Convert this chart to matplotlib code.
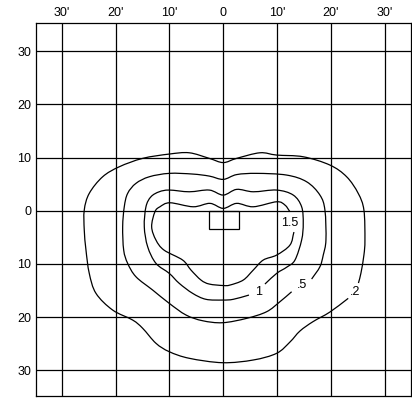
import matplotlib
matplotlib.use("Agg")
import matplotlib.pyplot as plt
from matplotlib.patches import Rectangle, PathPatch
from matplotlib.path import Path

plt.rcParams['font.family'] = ['Liberation Sans', 'DejaVu Sans']

# Grid positions and their labels (degrees / minutes)
x_ticks = [-30, -20, -10, 0, 10, 20, 30]
x_labels = ["30'", "20'", "10'", "0", "10'", "20'", "30'"]
y_ticks = [30, 20, 10, 0, -10, -20, -30]
y_labels = ["30", "20", "10", "0", "10", "20", "30"]

# Iso-illuminance contours; each path runs from one side of its label gap to the other
c02_x = [23.23, 19.83, 16.67, 14.26, 12.4, 9.93, 5.58, -0.11, -6.32, -10.04, -12.51, -14.98,
         -16.84, -20.56, -23.66, -24.91, -25.52, -25.84, -25.84, -24.91, -22.42, -19.33,
         -14.98, -10.04, -6.32, -2.6, 0.0, 2.49, 6.82, 9.93, 14.87, 19.83, 22.94, 25.09,
         26.15, 26.34, 26.15, 25.6, 25.13]
c02_y = [-16.47, -19.04, -20.86, -22.61, -24.68, -26.8, -28.06, -28.57, -27.74, -26.5, -24.92,
         -22.1, -20.55, -18.67, -15.53, -11.77, -7.39, -3.63, 0.13, 3.27, 6.39, 8.27, 9.85,
         10.66, 10.9, 9.85, 9.06, 9.85, 10.9, 10.47, 10.15, 8.59, 6.39, 3.27, 0.13, -5.51,
         -8.33, -11.71, -13.59]

c05_x = [12.71, 10.54, 8.07, 4.35, -0.11, -3.83, -6.93, -10.04, -13.12, -16.23, -17.77, -18.51,
         -18.7, -18.4, -17.77, -16.23, -13.75, -10.04, -5.69, -2.6, 0.0, 2.49, 6.21, 11.78,
         15.5, 17.97, 18.9, 19.09, 18.59, 17.97, 16.43]
c05_y = [-15.23, -17.1, -18.98, -20.23, -21.05, -20.68, -19.6, -17.41, -14.91, -12.41, -9.89,
         -7.39, -3.01, 0.75, 3.27, 5.15, 6.39, 7.03, 6.9, 6.52, 5.9, 6.8, 7.03, 6.71, 5.45,
         2.95, 0.13, -5.51, -8.33, -10.53, -12.84]

c10_x = [4.78, 1.86, -0.11, -3.22, -5.69, -8.18, -10.04, -12.51, -14.05, -14.68, -14.37, -13.44,
         -11.9, -10.04, -6.32, -2.6, 0.0, 2.49, 5.58, 9.93, 13.01, 14.57, 14.87, 14.57, 13.33,
         11.84, 9.93, 7.75]
c10_y = [-15.85, -16.65, -16.79, -16.65, -15.53, -13.65, -11.77, -9.89, -6.77, -3.01, 0.75,
         2.63, 3.57, 3.89, 3.57, 3.89, 2.95, 4.02, 3.57, 3.89, 2.95, 0.75, -2.37, -5.51, -9.27,
         -10.58, -11.77, -13.78]

c15_x = [13.14, 12.4, 9.93, 7.43, 5.58, 3.72, 1.25, 0.0, -2.6, -4.14, -6.0, -7.55, -11.02,
         -12.51, -13.31, -12.7, -11.77, -9.91, -5.58, -2.47, 0.0, 2.49, 5.58, 9.93, 11.47, 12.4]
c15_y = [-4.0, -6.45, -8.33, -9.27, -11.15, -13.03, -13.97, -14.06, -13.78, -13.03, -11.15,
         -9.27, -7.39, -5.51, -3.01, -0.19, 0.75, 1.5, 0.75, 1.39, 0.45, 1.39, 0.75, 1.69,
         1.07, -0.19]

contour_text = [".2", ".5", "1", "1.5"]
label_x = [24.48, 14.57, 6.51, 12.27]
label_y = [-15.23, -13.97, -15.23, -2.37]

# Luminaire outline
lum_x0, lum_x1 = -2.66, 2.86
lum_y0, lum_y1 = -3.5, 0.0


def smooth_path(xs, ys):
    """Smooth open path through the given vertices (Catmull-Rom as cubic Beziers)."""
    pts = list(zip(xs, ys))
    n = len(pts)
    tangents = []
    for i in range(n):
        a = pts[max(i - 1, 0)]
        b = pts[min(i + 1, n - 1)]
        k = 0.5 if 0 < i < n - 1 else 1.0
        tangents.append(((b[0] - a[0]) * k, (b[1] - a[1]) * k))
    verts = [pts[0]]
    codes = [Path.MOVETO]
    for i in range(n - 1):
        p0, p1 = pts[i], pts[i + 1]
        t0, t1 = tangents[i], tangents[i + 1]
        verts += [(p0[0] + t0[0] / 3, p0[1] + t0[1] / 3),
                  (p1[0] - t1[0] / 3, p1[1] - t1[1] / 3),
                  p1]
        codes += [Path.CURVE4] * 3
    return Path(verts, codes)


fig = plt.figure(figsize=(4.12, 4.00), dpi=100)
ax = fig.add_axes([0.0874, 0.01, 0.910, 0.933])
ax.set_xlim(-34.81, 34.89)
ax.set_ylim(-34.83, 35.34)

ax.set_xticks(x_ticks)
ax.set_xticklabels(x_labels)
ax.set_yticks(y_ticks)
ax.set_yticklabels(y_labels)
ax.xaxis.tick_top()
ax.tick_params(axis='both', length=0, labelsize=9, colors='black')
ax.tick_params(axis='x', pad=2.5)
ax.tick_params(axis='y', pad=3.5)
ax.grid(True, color='black', linewidth=0.9)
ax.set_axisbelow(True)
for sp in ax.spines.values():
    sp.set_linewidth(0.9)
    sp.set_color('black')

for xs, ys in [(c02_x, c02_y), (c05_x, c05_y), (c10_x, c10_y), (c15_x, c15_y)]:
    ax.add_patch(PathPatch(smooth_path(xs, ys), fill=False, edgecolor='black',
                           linewidth=0.9, capstyle='butt', zorder=3))

for t, lx, ly in zip(contour_text, label_x, label_y):
    ax.text(lx, ly, t, ha='center', va='center', fontsize=9, color='black', zorder=4)

ax.add_patch(Rectangle((lum_x0, lum_y0), lum_x1 - lum_x0, lum_y1 - lum_y0,
                       fill=False, edgecolor='black', linewidth=0.9, zorder=3))

fig.savefig("out.png", dpi=100)
